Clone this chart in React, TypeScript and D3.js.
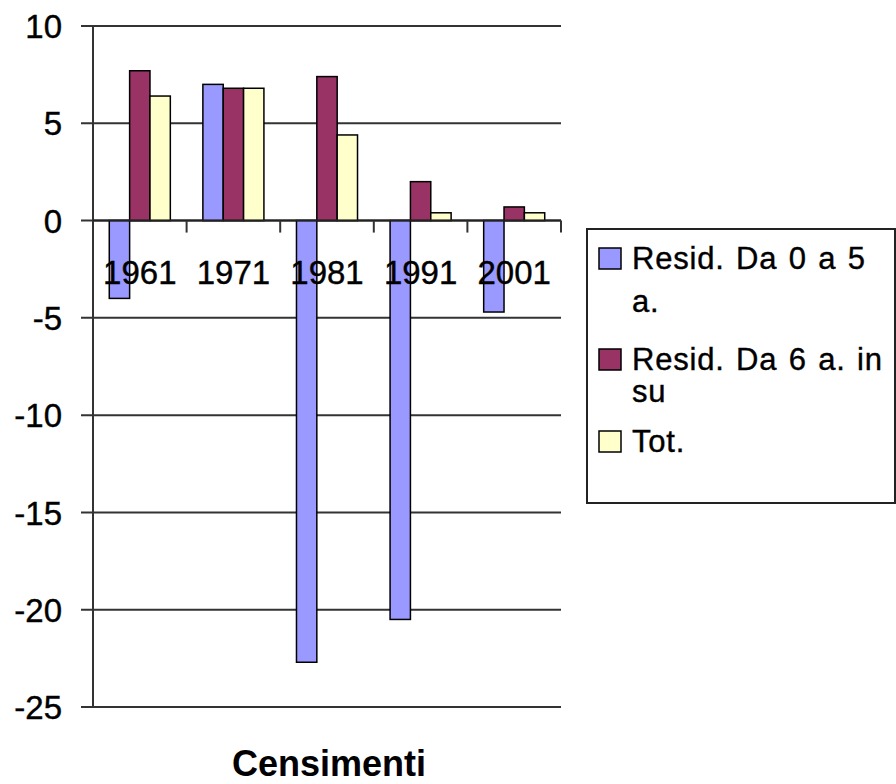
import { useRef, useEffect } from 'react';
import * as d3 from 'd3';

const categories = ["1961", "1971", "1981", "1991", "2001"];
const seriesNames = ["Resid. Da 0 a 5 a.", "Resid. Da 6 a. in su", "Tot."];
const resid0to5 = [-4.0, 7.0, -22.7, -20.5, -4.7];
const resid6up = [7.7, 6.8, 7.4, 2.0, 0.7];
const totale = [6.4, 6.8, 4.4, 0.4, 0.4];
const yTicks = [10, 5, 0, -5, -10, -15, -20, -25];
const legendLines = [["Resid. Da 0 a 5", "a."], ["Resid. Da 6 a. in", "su"], ["Tot."]];
const colors = ["#9999FF", "#993366", "#FFFFCC"];

const FONT = "'Liberation Sans', Arial, sans-serif";

function App() {
  const svgRef = useRef<SVGSVGElement>(null);

  useEffect(() => {
    const svg = d3.select(svgRef.current);
    svg.selectAll("*").remove();

    const left = 93, right = 561, top = 26, bottom = 707;
    const values = [resid0to5, resid6up, totale];

    const y = d3.scaleLinear().domain([-25, 10]).range([bottom, top]);
    const x0 = d3.scaleBand().domain(categories).range([left, right]).padding(0);
    const x1 = d3.scaleBand().domain(seriesNames)
      .range([0, x0.bandwidth()]).paddingInner(0).paddingOuter(0.8);

    const lineColor = "#333";

    // gridlines + y ticks
    svg.append("g").selectAll("line")
      .data(yTicks).enter().append("line")
      .attr("x1", left - 12).attr("x2", right)
      .attr("y1", d => y(d)).attr("y2", d => y(d))
      .attr("stroke", lineColor).attr("stroke-width", 2);

    // bars
    const rows = categories.map((c, i) => ({ cat: c, vals: values.map(v => v[i]) }));
    const grp = svg.append("g").selectAll("g")
      .data(rows).enter().append("g")
      .attr("transform", d => `translate(${x0(d.cat)},0)`);
    grp.selectAll("rect")
      .data(d => d.vals.map((v, k) => ({ v, k })))
      .enter().append("rect")
      .attr("x", d => x1(seriesNames[d.k])!)
      .attr("width", x1.bandwidth())
      .attr("y", d => y(Math.max(0, d.v)))
      .attr("height", d => Math.abs(y(d.v) - y(0)))
      .attr("fill", d => colors[d.k])
      .attr("stroke", "#000").attr("stroke-width", 1.5);

    // y axis line
    svg.append("line")
      .attr("x1", left).attr("x2", left).attr("y1", top).attr("y2", bottom)
      .attr("stroke", lineColor).attr("stroke-width", 2);

    // x axis line and ticks
    svg.append("line")
      .attr("x1", left).attr("x2", right).attr("y1", y(0)).attr("y2", y(0))
      .attr("stroke", "#222").attr("stroke-width", 2);
    const bounds = categories.map(c => x0(c)! + x0.bandwidth());
    svg.append("g").selectAll("line")
      .data(bounds).enter().append("line")
      .attr("x1", d => d).attr("x2", d => d)
      .attr("y1", y(0)).attr("y2", y(0) + 12)
      .attr("stroke", lineColor).attr("stroke-width", 2);

    // y tick labels
    svg.append("g").selectAll("text")
      .data(yTicks).enter().append("text")
      .attr("x", 62).attr("y", d => y(d)).attr("dy", "0.37em")
      .attr("text-anchor", "end")
      .style("font-family", FONT).style("font-size", "33px")
      .attr("stroke", "#000").attr("stroke-width", 0.4)
      .text(d => d);

    // category labels
    svg.append("g").selectAll("text")
      .data(categories).enter().append("text")
      .attr("x", d => x0(d)! + x0.bandwidth() / 2)
      .attr("y", 284)
      .attr("text-anchor", "middle")
      .style("font-family", FONT).style("font-size", "33px")
      .attr("stroke", "#000").attr("stroke-width", 0.4)
      .text(d => d);

    // axis title
    svg.append("text")
      .attr("x", 329).attr("y", 776)
      .attr("text-anchor", "middle")
      .style("font-family", FONT).style("font-size", "36px").style("font-weight", "bold")
      .text("Censimenti");

    // legend
    const lg = svg.append("g");
    lg.append("rect")
      .attr("x", 587).attr("y", 229).attr("width", 308).attr("height", 274)
      .attr("fill", "#fff").attr("stroke", "#222").attr("stroke-width", 2);
    const baselines = [[269, 312], [370, 402], [452]];
    legendLines.forEach((lines, k) => {
      const b = baselines[k][0];
      lg.append("rect")
        .attr("x", 599).attr("y", b - 21).attr("width", 22).attr("height", 21)
        .attr("fill", colors[k]).attr("stroke", "#000").attr("stroke-width", 1.5);
      lines.forEach((t, j) => {
        lg.append("text")
          .attr("x", 632).attr("y", baselines[k][j])
          .style("font-family", FONT).style("font-size", "31px")
          .style("letter-spacing", "0.8px").style("word-spacing", "2px")
          .attr("stroke", "#000").attr("stroke-width", 0.4)
          .text(t);
      });
    });
  }, []);

  return (
    <svg ref={svgRef} width={896} height={784}
      style={{ position: "absolute", left: 0, top: 0, background: "#fff" }} />
  );
}

export default App;
